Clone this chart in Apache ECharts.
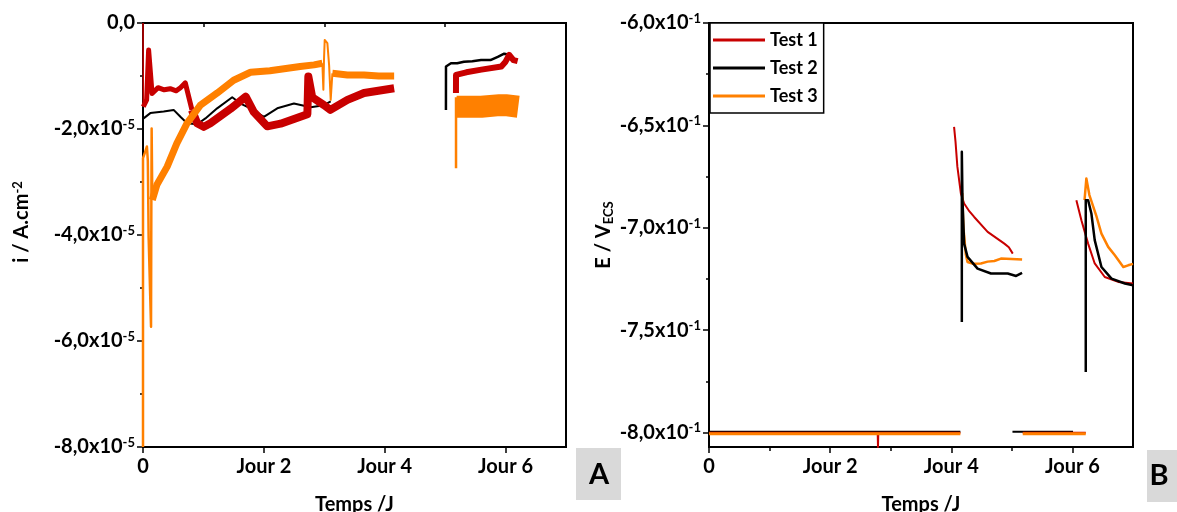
<!DOCTYPE html>
<html><head><meta charset="utf-8">
<script src="https://cdn.jsdelivr.net/npm/echarts@6/dist/echarts.min.js"></script>
<style>html,body{margin:0;padding:0;background:#fff}#c{width:1177px;height:512px}</style>
</head><body><div id="c"></div>
<script>
// ---------- DATA ----------
// Panel A : current density i (units of 1e-5 A.cm-2) vs time (days)
const T1_I_0 = [[0,0],[0.005,-1.58]];
const T1_I_A = [[0.005,-1.58],[0.06,-1.45],[0.093,-0.51],[0.15,-1.33],[0.25,-1.22],[0.35,-1.26],[0.45,-1.24],[0.55,-1.28],[0.62,-1.22],[0.70,-1.13],[0.81,-1.64]];
const T1_I_B = [[0.81,-1.64],[0.896,-1.89],[1.005,-1.96],[1.115,-1.89],[1.448,-1.62],[1.70,-1.39],[1.834,-1.68],[2.0,-1.88],[2.056,-1.95],[2.277,-1.90],[2.72,-1.72],[2.736,-1.01],[2.80,-1.40],[2.995,-1.55],[3.1,-1.64],[3.383,-1.45],[3.658,-1.32],[4.156,-1.23]];
const T1_I_C = [[5.179,-1.32],[5.18,-0.98],[5.35,-0.93],[5.60,-0.88],[5.93,-0.82],[6.0,-0.73],[6.06,-0.60],[6.13,-0.70],[6.20,-0.72]];
const T2_I_A = [[0.01,-1.80],[0.121,-1.70],[0.342,-1.67],[0.507,-1.64],[0.619,-1.77],[0.73,-1.89],[0.896,-1.91],[1.033,-1.80],[1.227,-1.61],[1.476,-1.40],[1.614,-1.52],[1.779,-1.61],[2.0,-1.77],[2.222,-1.61],[2.498,-1.52],[2.774,-1.59],[2.995,-1.55],[3.106,-1.48]];
const T2_I_B = [[5.013,-1.64],[5.014,-0.82],[5.096,-0.76],[5.2,-0.76],[5.31,-0.73],[5.45,-0.72],[5.594,-0.70],[5.75,-0.70],[5.871,-0.64],[5.977,-0.58],[6.06,-0.60]];
const T3_I_A = [[0,-8],[0.0,-2.55],[0.03,-2.45],[0.065,-2.33],[0.08,-2.6],[0.093,-4.03],[0.115,-4.05],[0.133,-5.73],[0.138,-3.5],[0.143,-1.99],[0.154,-3.34]];
const T3_I_B = [[0.154,-3.34],[0.23,-3.05],[0.40,-2.71],[0.56,-2.27],[0.73,-1.89],[0.95,-1.55],[1.23,-1.32],[1.5,-1.08],[1.78,-0.93],[2.1,-0.9],[2.6,-0.82],[2.83,-0.79],[2.968,-0.76]];
const T3_I_C = [[2.968,-0.76],[2.985,-1.26],[2.995,-0.7],[3.007,-0.32],[3.03,-0.3],[3.051,-0.38],[3.08,-0.8],[3.106,-1.45],[3.134,-0.95]];
const T3_I_D = [[3.134,-0.95],[3.383,-0.98],[3.658,-0.98],[3.9,-1.0],[4.156,-1.0]];
const T3_I_E = [[5.18,-2.74],[5.18,-1.40]];
const T3_I_F = [[5.19,-1.58],[5.6,-1.58],[5.9,-1.55],[6.0,-1.55],[6.21,-1.58]];

// Panel B : potential E (V vs ECS) vs time (days)
const T1_E_A = [[0,-0.8],[2.785,-0.8],[2.79,-0.807],[2.795,-0.8],[4.15,-0.8]];
const T1_E_B = [[4.046,-0.6507],[4.07,-0.658],[4.10,-0.670],[4.158,-0.6832],[4.212,-0.6881],[4.30,-0.692],[4.378,-0.6947],[4.6,-0.702],[4.876,-0.7077],[4.95,-0.7095],[5.015,-0.7126]];
const T1_E_C = [[5.18,-0.8],[6.22,-0.8]];
const T1_E_D = [[6.065,-0.6865],[6.148,-0.6963],[6.259,-0.7077],[6.368,-0.7174],[6.534,-0.724],[6.756,-0.7264],[7.0,-0.7272]];
const T2_E_A = [[0,-0.7996],[4.15,-0.7996]];
const T2_E_B = [[4.174,-0.746],[4.174,-0.6629],[4.185,-0.6865],[4.212,-0.7077],[4.268,-0.7142],[4.434,-0.7199],[4.655,-0.7223],[4.932,-0.7223],[5.07,-0.7235],[5.169,-0.722]];
const T2_E_C = [[5.01,-0.7996],[6.01,-0.7996]];
const T2_E_D = [[6.22,-0.7704],[6.22,-0.6865],[6.259,-0.6865],[6.313,-0.693],[6.368,-0.706],[6.479,-0.7191],[6.645,-0.7248],[6.866,-0.7272],[7.0,-0.728]];
const T3_E_A = [[0,-0.8005],[4.15,-0.8005]];
const T3_E_B = [[4.18,-0.683],[4.20,-0.70],[4.24,-0.713],[4.268,-0.7167],[4.35,-0.7175],[4.489,-0.7174],[4.6,-0.7165],[4.71,-0.7162],[4.82,-0.715],[5.169,-0.7155]];
const T3_E_C = [[5.18,-0.8005],[6.22,-0.8005]];
const T3_E_D = [[6.20,-0.6865],[6.23,-0.6759],[6.28,-0.684],[6.40,-0.6947],[6.479,-0.7028],[6.59,-0.7093],[6.70,-0.7134],[6.84,-0.7191],[6.87,-0.7199],[6.92,-0.7183],[7.0,-0.7176]];

const X_MAJOR = [0, 2, 4, 6];
const X_MINOR = [1, 3, 5];
const E_MAJOR = [-0.8, -0.75, -0.7, -0.65, -0.6];
const E_MINOR = [-0.775, -0.725, -0.675, -0.625];
const NAMES = ['Test 1', 'Test 2', 'Test 3'];
const COLORS = {'Test 1': '#c80000', 'Test 2': '#000000', 'Test 3': '#ff8000'};

// ---------- CHART ----------
const FONT = 'Lato';
const TXT = {fontFamily: FONT, fontWeight: 'bold', color: '#000'};
const RICH = {
  b: Object.assign({fontSize: 20, lineHeight: 22}, TXT),
  s: Object.assign({fontSize: 13, lineHeight: 13, verticalAlign: 'top'}, TXT),
  d: Object.assign({fontSize: 13, lineHeight: 13, verticalAlign: 'bottom'}, TXT)
};
const AXC = {color: '#000', width: 2};
const TKC = {color: '#000', width: 1.5};
const G = [{left: 143, top: 23, width: 423, height: 424}, {left: 709, top: 23, width: 424, height: 424}];

function xMain(g) {
  return {type: 'value', gridIndex: g, position: 'bottom', min: 0, max: 7,
    axisLine: {show: true, onZero: false, lineStyle: AXC},
    axisTick: {show: true, customValues: X_MAJOR, length: 6, lineStyle: TKC},
    axisLabel: Object.assign({customValues: X_MAJOR, fontSize: 20, margin: 10,
      formatter: v => v === 0 ? '0' : 'Jour ' + v}, TXT),
    splitLine: {show: false},
    name: 'Temps /J', nameLocation: 'middle', nameGap: 48,
    nameTextStyle: Object.assign({fontSize: 20}, TXT)};
}
function xMinor(g) {
  return {type: 'value', gridIndex: g, position: 'bottom', min: 0, max: 7,
    axisLine: {show: false}, axisLabel: {show: false}, splitLine: {show: false},
    axisTick: {show: true, customValues: X_MINOR, length: 4, lineStyle: TKC}};
}
function s(name, data, width, xi, yi) {
  const c = COLORS[name];
  return {type: 'line', name: name, data: data, xAxisIndex: xi, yAxisIndex: yi,
    symbol: 'none', showSymbol: false, silent: true, clip: true,
    lineStyle: {color: c, width: width, join: 'round', cap: 'butt'}, itemStyle: {color: c}};
}

const option = {
  animation: false,
  backgroundColor: '#fff',
  grid: G.map(g => Object.assign({show: true, borderColor: '#000', borderWidth: 2, backgroundColor: 'transparent',
    containLabel: false, outerBoundsMode: 'none'}, g)),
  xAxis: [xMain(0), xMinor(0), xMain(1), xMinor(1)],
  yAxis: [
    {type: 'value', gridIndex: 0, position: 'left', min: -8, max: 0, interval: 2,
     axisLine: {show: true, onZero: false, lineStyle: AXC},
     axisTick: {show: true, length: 6, lineStyle: TKC},
     minorTick: {show: true, splitNumber: 2, length: 3, lineStyle: TKC},
     splitLine: {show: false},
     axisLabel: {margin: 8, rich: RICH,
       formatter: v => v === 0 ? '{b|0,0}' : '{b|' + v.toFixed(1).replace('.', ',') + 'x10}{s|-5}'},
     name: '{b|i / A.cm}{s|-2}', nameLocation: 'middle', nameGap: 110,
     nameTextStyle: {rich: RICH, padding: [0, 0, 0, 26]}},
    {type: 'value', gridIndex: 1, position: 'left', min: -0.807, max: -0.6,
     axisLine: {show: true, onZero: false, lineStyle: AXC},
     axisTick: {show: true, customValues: E_MAJOR, length: 6, lineStyle: TKC},
     splitLine: {show: false},
     axisLabel: {customValues: E_MAJOR, margin: 8, rich: RICH,
       formatter: v => '{b|' + (v * 10).toFixed(1).replace('.', ',') + 'x10}{s|-1}'},
     name: '{b|E / V}{d|ECS}', nameLocation: 'middle', nameGap: 94,
     nameTextStyle: {rich: RICH}},
    {type: 'value', gridIndex: 1, position: 'left', min: -0.807, max: -0.6,
     axisLine: {show: false}, axisLabel: {show: false}, splitLine: {show: false},
     axisTick: {show: true, customValues: E_MINOR, length: 3, lineStyle: TKC}}
  ],
  legend: {
    data: NAMES.map(n => ({name: n, icon: 'rect'})),
    orient: 'vertical', left: 710, top: 23,
    itemWidth: 52, itemHeight: 3, itemGap: 10,
    padding: [8, 6, 8, 3],
    borderColor: '#000', borderWidth: 1.5, borderRadius: 0, backgroundColor: '#fff',
    textStyle: Object.assign({fontSize: 18}, TXT),
    selectedMode: false
  },
  series: [
    s('Test 2', T2_I_A, 2, 0, 0),
    s('Test 2', T2_I_B, 2.5, 0, 0),
    s('Test 1', T1_I_0, 1.5, 0, 0),
    s('Test 1', T1_I_A, 5, 0, 0),
    s('Test 1', T1_I_B, 8, 0, 0),
    s('Test 1', T1_I_C, 6, 0, 0),
    s('Test 3', T3_I_A, 2.5, 0, 0),
    s('Test 3', T3_I_B, 7, 0, 0),
    s('Test 3', T3_I_C, 2, 0, 0),
    s('Test 3', T3_I_D, 7, 0, 0),
    s('Test 3', T3_I_E, 2.5, 0, 0),
    s('Test 3', T3_I_F, 22, 0, 0),

    s('Test 2', T2_E_A, 2, 2, 1),
    s('Test 2', T2_E_C, 2, 2, 1),
    s('Test 1', T1_E_A, 2, 2, 1),
    s('Test 1', T1_E_B, 2, 2, 1),
    s('Test 1', T1_E_C, 2, 2, 1),
    s('Test 1', T1_E_D, 2, 2, 1),
    s('Test 3', T3_E_A, 3, 2, 1),
    s('Test 3', T3_E_B, 2.5, 2, 1),
    s('Test 3', T3_E_C, 3, 2, 1),
    s('Test 3', T3_E_D, 2.5, 2, 1),
    s('Test 2', T2_E_B, 2.5, 2, 1),
    s('Test 2', T2_E_D, 2.5, 2, 1)
  ],
  graphic: [
    {type: 'rect', shape: {x: 576, y: 448, width: 45, height: 52}, style: {fill: '#d9d9d9'}},
    {type: 'text', x: 599, y: 475, style: {text: 'A', font: 'bold 29px Lato', fill: '#000', textAlign: 'center', textVerticalAlign: 'middle', align: 'center', verticalAlign: 'middle'}},
    {type: 'rect', shape: {x: 1147, y: 450, width: 40, height: 52}, style: {fill: '#d9d9d9'}},
    {type: 'text', x: 1159, y: 476, style: {text: 'B', font: 'bold 29px Lato', fill: '#000', textAlign: 'center', textVerticalAlign: 'middle', align: 'center', verticalAlign: 'middle'}}
  ]
};
const chart = echarts.init(document.getElementById('c'), null, {renderer: 'canvas'});
chart.setOption(option);
</script>
</body></html>
